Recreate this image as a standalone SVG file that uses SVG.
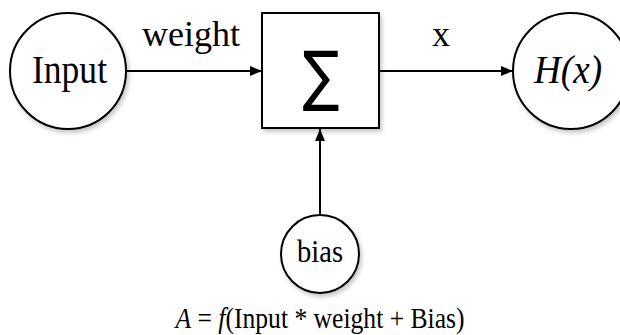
<svg xmlns="http://www.w3.org/2000/svg" width="620" height="335" viewBox="0 0 620 335">
<defs>
<filter id="sh" x="-20%" y="-20%" width="150%" height="150%">
<feDropShadow dx="2" dy="3" stdDeviation="2" flood-color="#000" flood-opacity="0.22"/>
</filter>
<marker id="ah" viewBox="0 0 12 10" refX="12" refY="5" markerWidth="12" markerHeight="10" markerUnits="userSpaceOnUse" orient="auto">
<path d="M0,0 L12,5 L0,10 Z" fill="#000"/>
</marker>
<style>
.n{fill:#fff;stroke:#000;stroke-width:2;filter:url(#sh)}
.c{stroke:#000;stroke-width:2;fill:none;marker-end:url(#ah)}
.t{font-family:"Liberation Serif","Times New Roman",serif;fill:#000;text-anchor:middle}
</style>
</defs>
<rect width="620" height="335" fill="#fff"/>
<g id="connectors">
<line class="c" x1="127" y1="71" x2="262" y2="71"/>
<line class="c" x1="379" y1="71" x2="513" y2="71"/>
<line class="c" x1="320" y1="215" x2="320" y2="129"/>
</g>
<g id="input">
<circle class="n" cx="68" cy="71" r="58"/>
<text class="t" x="69.5" y="83" font-size="41" textLength="75" lengthAdjust="spacingAndGlyphs">Input</text>
</g>
<g id="sum">
<rect class="n" x="262" y="13" width="117" height="115"/>
<text x="321" y="98" font-family="'DejaVu Sans',sans-serif" font-size="66" text-anchor="middle" textLength="37" lengthAdjust="spacingAndGlyphs">∑</text>
</g>
<g id="hx">
<circle class="n" cx="571" cy="71" r="58"/>
<text class="t" x="568" y="83" font-size="39" font-style="italic" textLength="68" lengthAdjust="spacingAndGlyphs">H(x)</text>
</g>
<g id="bias">
<circle class="n" cx="320" cy="254" r="39"/>
<text class="t" x="320" y="262" font-size="31" textLength="46" lengthAdjust="spacingAndGlyphs">bias</text>
</g>
<g id="labels">
<text class="t" x="191" y="46" font-size="36">weight</text>
<text class="t" x="441" y="46" font-size="36">x</text>
<text class="t" x="320" y="328" font-size="28.5" textLength="289" lengthAdjust="spacingAndGlyphs"><tspan font-style="italic">A</tspan> = <tspan font-style="italic">f</tspan>(Input * weight + Bias)</text>
</g>
</svg>
